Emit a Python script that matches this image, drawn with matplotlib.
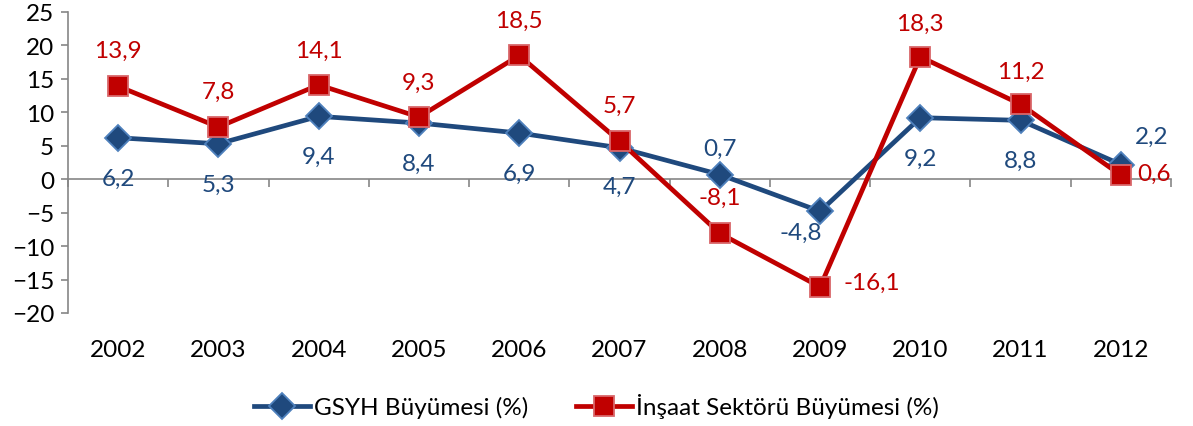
import matplotlib.pyplot as plt
import numpy as np

plt.rcParams['font.family'] = ['Lato', 'DejaVu Sans']

years = ['2002', '2003', '2004', '2005', '2006', '2007', '2008', '2009', '2010', '2011', '2012']
gsyh = [6.2, 5.3, 9.4, 8.4, 6.9, 4.7, 0.7, -4.8, 9.2, 8.8, 2.2]
insaat = [13.9, 7.8, 14.1, 9.3, 18.5, 5.7, -8.1, -16.1, 18.3, 11.2, 0.6]

# label offsets in points (dx, dy)
gsyh_off = [(0, -29), (0, -29), (0, -29), (0, -29), (0, -29), (0, -28),
            (0, 19), (-14, -15), (0, -29), (0, -29), (22, 20)]
insaat_off = [(0, 26), (0, 26), (0, 25), (0, 25), (0, 25), (0, 26),
              (0, 26), (37, 3), (0, 24), (0, 24), (24, 1.5)]

blue = '#1F497D'
blue_edge = '#4F81BD'
red = '#C00000'
red_edge = '#D9676A'
grey = '#868686'
fs = 17.5

fig = plt.figure(figsize=(11.93, 4.27), dpi=100)
ax = fig.add_axes([68/1193, 1-314/427, (1171-68)/1193, (314-13)/427])

x = np.arange(len(years))
ax.plot(x, gsyh, color=blue, lw=3.4, marker='D', ms=13, mfc=blue,
        mec=blue_edge, mew=1.3, label='GSYH Büyümesi (%)', zorder=3)
ax.plot(x, insaat, color=red, lw=3.4, marker='s', ms=14, mfc=red,
        mec=red_edge, mew=1.3, label='İnşaat Sektörü Büyümesi (%)', zorder=4)

for i in range(len(years)):
    ax.annotate(f'{gsyh[i]:.1f}'.replace('.', ','), (x[i], gsyh[i]),
                xytext=gsyh_off[i], textcoords='offset points',
                ha='center', va='center', color=blue, fontsize=fs)
    ax.annotate(f'{insaat[i]:.1f}'.replace('.', ','), (x[i], insaat[i]),
                xytext=insaat_off[i], textcoords='offset points',
                ha='center', va='center', color=red, fontsize=fs)

ax.set_xlim(-0.5, len(years) - 0.5)
ax.set_ylim(-20, 25)
ax.set_yticks(range(-20, 26, 5))
ax.tick_params(axis='y', labelsize=fs, length=5, width=1.2, color=grey, pad=5)

ax.spines['top'].set_visible(False)
ax.spines['right'].set_visible(False)
ax.spines['left'].set_color(grey)
ax.spines['left'].set_linewidth(1.2)
ax.spines['bottom'].set_position(('data', 0))
ax.spines['bottom'].set_color(grey)
ax.spines['bottom'].set_linewidth(1.2)
ax.set_xticks(np.arange(-0.5, len(years), 1.0))
ax.set_xticklabels([])
ax.tick_params(axis='x', length=6, width=1.2, color=grey, direction='out')

for i, yr in enumerate(years):
    ax.text(x[i], -0.12, yr, transform=ax.get_xaxis_transform(),
            ha='center', va='center', fontsize=fs)

fig.legend(loc='center', bbox_to_anchor=(0.5, 1-407/427), ncol=2,
           frameon=False, fontsize=fs, handlelength=2.3,
           columnspacing=2.0, handletextpad=0.15)

fig.savefig('out.png', dpi=100)
